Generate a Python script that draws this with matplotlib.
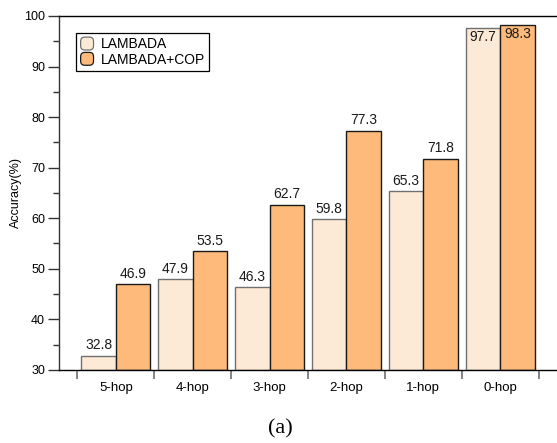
import numpy as np
import matplotlib
matplotlib.use("Agg")
import matplotlib.pyplot as plt
from matplotlib.patches import FancyBboxPatch
from matplotlib.legend_handler import HandlerPatch

plt.rcParams["font.family"] = ["Liberation Sans", "DejaVu Sans"]

hops = ["5-hop", "4-hop", "3-hop", "2-hop", "1-hop", "0-hop"]
lambada = [32.8, 47.9, 46.3, 59.8, 65.3, 97.7]
lambada_cop = [46.9, 53.5, 62.7, 77.3, 71.8, 98.3]

c_light = "#FDEAD6"
c_orange = "#FDBA7B"


class RoundBox(HandlerPatch):
    # rounded square swatches for the legend
    def create_artists(self, legend, orig_handle, xdescent, ydescent, width, height, fontsize, trans):
        s = height * 1.0
        p = FancyBboxPatch((-xdescent + (width - s) / 2, -ydescent + (height - s) / 2), s, s,
                           boxstyle="round,pad=0,rounding_size=3",
                           facecolor=orig_handle.get_facecolor(),
                           edgecolor=orig_handle.get_edgecolor(), linewidth=0.9)
        p.set_transform(trans)
        return [p]


fig = plt.figure(figsize=(5.57, 4.43), dpi=100)
ax = fig.add_axes([0.106, 0.165, 0.894, 0.799])

x = np.arange(len(hops))
w = 0.45
b1 = ax.bar(x - w / 2, np.array(lambada) - 30, w, bottom=30, color=c_light,
            edgecolor="#707070", linewidth=1.0)
b2 = ax.bar(x + w / 2, np.array(lambada_cop) - 30, w, bottom=30, color=c_orange,
            edgecolor="#1a1a1a", linewidth=1.0)

for bars, vals in [(b1, lambada), (b2, lambada_cop)]:
    for r, v in zip(bars, vals):
        cx = r.get_x() + r.get_width() / 2
        if v > 95:
            ax.annotate(f"{v:.1f}", (cx, v), xytext=(0, -2), textcoords="offset points",
                        ha="center", va="top", fontsize=10, color="#1a1a1a")
        else:
            ax.annotate(f"{v:.1f}", (cx, v), xytext=(0, 2.5), textcoords="offset points",
                        ha="center", va="bottom", fontsize=10, color="#1a1a1a")

ax.set_xlim(-0.74, 5.74)
ax.set_ylim(30, 100)
ax.set_yticks(np.arange(30, 101, 10))
ax.set_yticks(np.arange(35, 100, 10), minor=True)
ax.set_xticks(x)
ax.set_xticklabels(hops, fontsize=9.5)
ax.set_xticks(np.arange(-0.5, 6, 1), minor=True)
ax.tick_params(axis="x", which="major", length=0, pad=9)
ax.tick_params(axis="x", which="minor", length=6.5, width=1.2, color="#707070", direction="out")
ax.tick_params(axis="y", which="major", length=8, width=1.0, labelsize=9, pad=2, color="#333333")
ax.tick_params(axis="y", which="minor", length=4, width=1.0, color="#333333")
ax.spines["right"].set_visible(False)
for s in ["left", "bottom", "top"]:
    ax.spines[s].set_linewidth(1.0)
ax.spines["left"].set_color("#333333")
ax.set_ylabel("Accuracy(%)", fontsize=9, labelpad=1.5)

leg = ax.legend(handler_map={b1.patches[0].__class__: RoundBox()},
                handles=[b1.patches[0], b2.patches[0]],
                labels=["LAMBADA", "LAMBADA+COP"],
                loc="upper left", bbox_to_anchor=(0.034, 0.952), borderaxespad=0,
                fontsize=10, fancybox=False, edgecolor="black", framealpha=1,
                handlelength=1.0, handleheight=1.05, handletextpad=0.5,
                labelspacing=0.08, borderpad=0.3)
leg.get_frame().set_linewidth(0.9)

fig.text(0.503, 0.032, "(a)", ha="center", va="center", fontsize=16,
         family=["Liberation Serif", "DejaVu Serif"])

fig.savefig("out.png", dpi=100)
